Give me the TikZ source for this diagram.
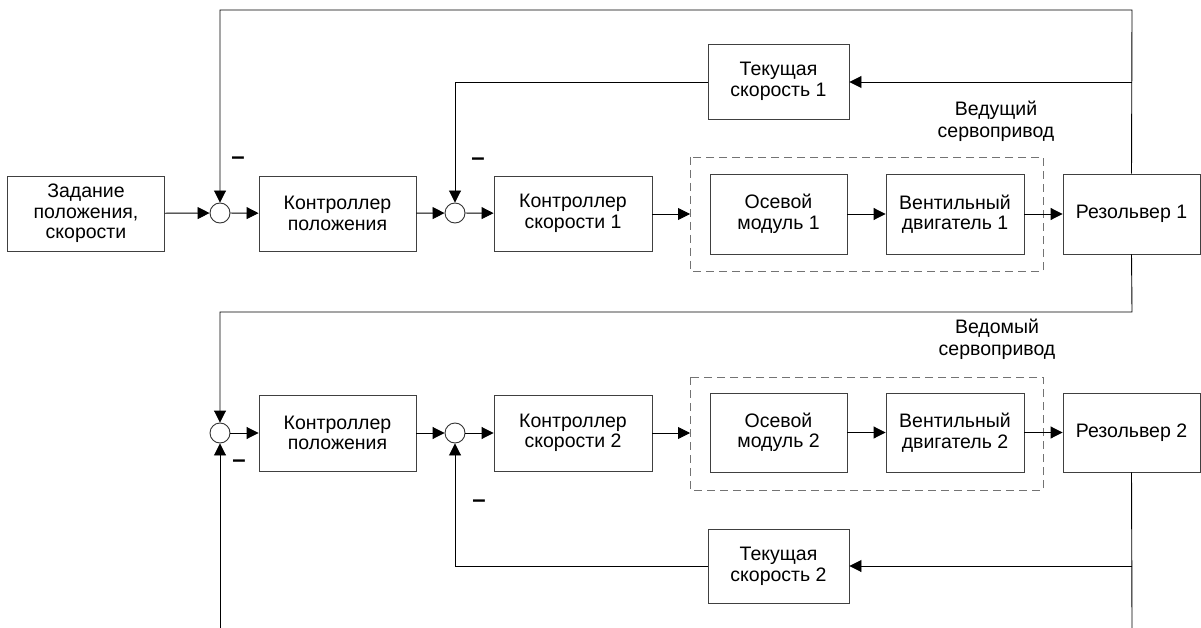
\documentclass[tikz,border=0pt]{standalone}
\usepackage{fontspec}
\setmainfont{Liberation Sans}
\usetikzlibrary{arrows.meta,positioning,calc}
\begin{document}
\begin{tikzpicture}[x=1pt,y=-1pt,
  box/.style={draw=black!75,line width=0.9pt,fill=white,align=center,inner sep=0pt,
    font=\fontsize{19.5}{20.5}\selectfont},
  sum/.style={draw=black!80,line width=0.9pt,circle,minimum size=20pt,inner sep=0pt,fill=white},
  conn/.style={draw=black,line width=0.9pt},
  arr/.style={conn,-{Triangle[length=12pt,width=12pt]}},
  grp/.style={draw=black!55,dashed,dash pattern=on 8pt off 5pt,line width=0.9pt},
  lbl/.style={align=center,inner sep=0pt,font=\fontsize{19.5}{22}\selectfont},
  minus/.style={inner sep=0pt,font=\fontsize{24}{24}\selectfont\bfseries}]
\useasboundingbox (0,0) rectangle (1201,628);
\fill[white] (0,0) rectangle (1201,628);

% dashed groups
\draw[grp] (690,157) rectangle (1043,271);
\draw[grp] (690,377) rectangle (1043,490);
\coordinate (g1) at (690,214);
\coordinate (g2) at (690,433);

% row 1
\node[box,minimum width=157pt,minimum height=75pt] (zad) at (86,213.5) {Задание\\положения,\\скорости};
\node[sum] (s1) at (220,213) {};
\node[box,minimum width=157pt,minimum height=75pt] (kp1) at (337.5,213.5) {Контроллер\\положения};
\node[sum] (s2) at (455,213) {};
\node[box,minimum width=158pt,minimum height=75pt] (ks1) at (573,213.5) {Контроллер\\скорости 1};
\node[box,minimum width=137pt,minimum height=80pt] (om1) at (778.5,214) {Осевой\\модуль 1};
\node[box,minimum width=138pt,minimum height=80pt] (vd1) at (955,214) {Вентильный\\двигатель 1};
\node[box,minimum width=137pt,minimum height=80pt] (r1) at (1131.5,214) {Резольвер 1};
\node[box,minimum width=141pt,minimum height=75pt] (ts1) at (778.5,81.5) {Текущая\\скорость 1};

% row 2
\node[sum] (s3) at (220,433) {};
\node[box,minimum width=157pt,minimum height=76pt] (kp2) at (337.5,433) {Контроллер\\положения};
\node[sum] (s4) at (455,433) {};
\node[box,minimum width=158pt,minimum height=76pt] (ks2) at (573,433) {Контроллер\\скорости 2};
\node[box,minimum width=137pt,minimum height=79pt] (om2) at (778.5,432.5) {Осевой\\модуль 2};
\node[box,minimum width=138pt,minimum height=79pt] (vd2) at (955,432.5) {Вентильный\\двигатель 2};
\node[box,minimum width=137pt,minimum height=79pt] (r2) at (1131.5,432.5) {Резольвер 2};
\node[box,minimum width=141pt,minimum height=74pt] (ts2) at (778.5,566.5) {Текущая\\скорость 2};

% labels
\node[lbl] (lab1) at (996,121) {Ведущий\\сервопривод};
\node[lbl] (lab2) at (997,339) {Ведомый\\сервопривод};
\node[minus] (m1) at (238,161) {–};
\node[minus] (m2) at (478,162) {–};
\node[minus] (m3) at (239,464) {–};
\node[minus] (m4) at (479,504) {–};

% coordinates
\coordinate (t1) at (1132,10);
\coordinate (t0) at (220,10);
\coordinate (f1) at (1132,82);
\coordinate (f1l) at (455,82);
\coordinate (b1) at (1132,312);
\coordinate (b0) at (220,312);
\coordinate (e2) at (1132,628);
\coordinate (f2) at (1132,566);
\coordinate (f2l) at (455,566);
\coordinate (e0) at (220,628);

% row 1 connectors
\draw[arr] (zad) -- (s1);
\draw[arr] (s1) -- (kp1);
\draw[arr] (kp1) -- (s2);
\draw[arr] (s2) -- (ks1);
\draw[arr] (ks1.east |- g1) -- (g1);
\draw[arr] (om1) -- (vd1);
\draw[arr] (vd1.east |- r1.west) -- (r1.west);
\draw[arr] (r1.north) -- (t1) -- (t0) -- (s1.north);
\draw[arr] (f1) -- (ts1.east |- f1);
\draw[arr] (ts1.west |- f1l) -- (f1l) -- (s2.north);
\draw[arr] (r1.south) -- (b1) -- (b0) -- (s3.north);

% row 2 connectors
\draw[arr] (s3) -- (kp2);
\draw[arr] (kp2) -- (s4);
\draw[arr] (s4) -- (ks2);
\draw[arr] (ks2.east |- g2) -- (g2);
\draw[arr] (om2) -- (vd2);
\draw[arr] (vd2.east |- r2.west) -- (r2.west);
\draw[conn] (r2.south) -- (e2);
\draw[arr] (f2) -- (ts2.east |- f2);
\draw[arr] (ts2.west |- f2l) -- (f2l) -- (s4.south);
\draw[arr] (e0) -- (s3.south);
\end{tikzpicture}
\end{document}
